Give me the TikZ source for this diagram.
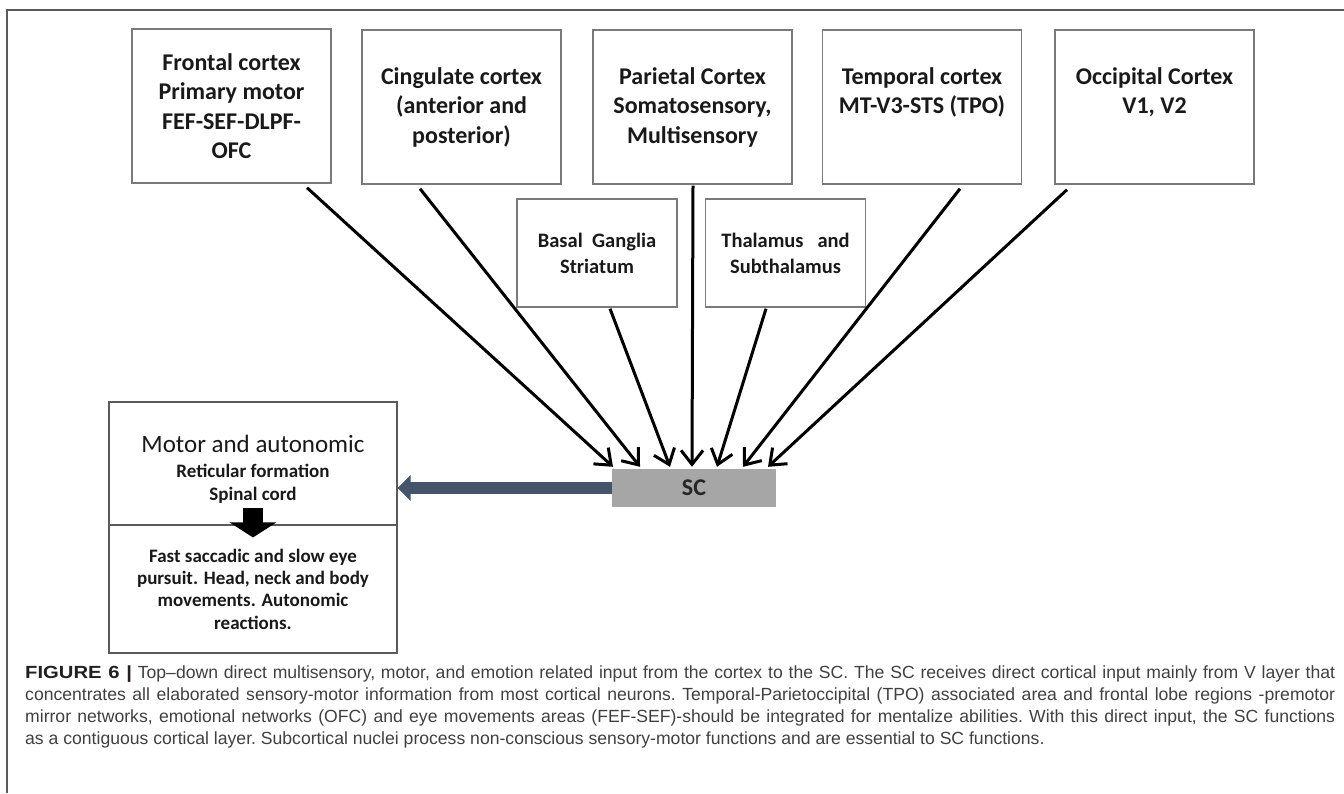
\documentclass[tikz,border=0pt]{standalone}
\usepackage{fontspec}
\setmainfont{Carlito}
\newfontfamily\capfont{Liberation Sans}
\newfontfamily\capbf[FakeStretch=1.15]{Liberation Sans Bold}
\usetikzlibrary{arrows.meta}
\definecolor{boxline}{HTML}{7A7A7A}
\definecolor{frameline}{HTML}{5A5A5A}
\definecolor{scfill}{HTML}{A6A6A6}
\definecolor{slate}{HTML}{44546A}
\definecolor{captxt}{HTML}{404040}
\definecolor{capbold}{HTML}{231F20}
\begin{document}
\begin{tikzpicture}[x=1pt,y=-1pt,
  cortex/.style={draw=boxline,line width=1.4pt,minimum width=199pt,minimum height=154pt,inner sep=0pt,align=center,font=\bfseries\fontsize{24}{29.5}\selectfont,text=black!90},
  subc/.style={draw=boxline,line width=1.4pt,minimum width=160pt,minimum height=108pt,inner sep=0pt,align=center,font=\bfseries\fontsize{20.5}{25.8}\selectfont,text=black!90},
  motorbox/.style={draw=frameline,line width=1.1pt,minimum width=288pt,inner sep=0pt,align=center,text=black!90},
  arr/.style={line width=3pt,-{Straight Barb[length=14pt,width=22pt,line width=3pt]}},
  framestyle/.style={draw=frameline,line width=1.2pt}
]
\useasboundingbox (0,0) rectangle (1344,793);
\draw[framestyle] (7,793) -- (7,10) -- (1344,10);

\node[cortex] (frontal) at (231.5,106) {Frontal cortex\\Primary motor\\FEF-SEF-DLPF-\\OFC};
\node[cortex] (cingulate) at (461.5,107) {Cingulate cortex\\(anterior and\\posterior)};
\node[cortex] (parietal) at (692.5,107) {Parietal Cortex\\Somatosensory,\\Multisensory};
\node[cortex] (temporal) at (922,107) {Temporal cortex\\MT-V3-STS (TPO)\\\phantom{(Xy)}};
\node[cortex] (occipital) at (1154.5,107) {Occipital Cortex\\V1, V2\\\phantom{(Xy)}};

\node[subc] (basal) at (597,253) {Basal\ \ Ganglia\\Striatum};
\node[subc] (thalamus) at (785.5,253) {Thalamus\ \ \ and\\Subthalamus};

\node[fill=scfill,minimum width=164pt,minimum height=38pt,inner sep=0pt,font=\bfseries\fontsize{24}{28}\selectfont,text=black!85] (sc) at (694,488) {SC};

\node[motorbox,minimum height=123pt,font=\bfseries\fontsize{19}{23}\selectfont] (motortop) at (253,463.5) {{\mdseries\fontsize{25}{30}\selectfont\rule{0pt}{29pt}Motor and autonomic}\\[2pt]Reticular formation\\Spinal cord};
\node[motorbox,minimum height=128pt,font=\bfseries\fontsize{19}{22.3}\selectfont] (motorbot) at (253,589) {Fast saccadic and slow eye\\pursuit. Head, neck and body\\movements. Autonomic\\reactions.};

\draw[arr] ([xshift=75.5pt,yshift=-4pt]frontal.south) -- ([xshift=-81pt,yshift=2pt]sc.north);
\draw[arr] ([xshift=-41.5pt,yshift=-4pt]cingulate.south) -- ([xshift=-54pt,yshift=2pt]sc.north);
\draw[arr] ([xshift=13pt,yshift=-1pt]basal.south) -- ([xshift=-24pt,yshift=2pt]sc.north);
\draw[arr] ([xshift=0.5pt,yshift=-1pt]parietal.south) -- ([xshift=-2pt,yshift=2pt]sc.north);
\draw[arr] ([xshift=-19.5pt,yshift=-1pt]thalamus.south) -- ([xshift=23pt,yshift=2pt]sc.north);
\draw[arr] ([xshift=38pt,yshift=-4pt]temporal.south) -- ([xshift=49pt,yshift=2pt]sc.north);
\draw[arr] ([xshift=-87.5pt,yshift=-5pt]occipital.south) -- ([xshift=74pt,yshift=2pt]sc.north);

\draw[slate,line width=12pt,-{Triangle[length=13pt,width=25pt]}] (sc.west) -- (sc.west -| motortop.east);
\draw[black,line width=20pt,-{Triangle[length=15pt,width=46pt]}] ([yshift=16pt]motorbot.north) -- ([yshift=-13pt]motorbot.north);

\node[anchor=north west,inner sep=0pt,text width=1310pt,align=justify,font=\capfont\frenchspacing\fontsize{17.6}{22}\selectfont,text=captxt] (caption) at (25,666) {{\capbf\color{capbold}FIGURE 6 |} Top–down direct multisensory, motor, and emotion related input from the cortex to the SC. The SC receives direct cortical input mainly from V layer that\linebreak concentrates all elaborated sensory-motor information from most cortical neurons. Temporal-Parietoccipital (TPO) associated area and frontal lobe regions -premotor\linebreak mirror networks, emotional networks (OFC) and eye movements areas (FEF-SEF)-should be integrated for mentalize abilities. With this direct input, the SC functions\linebreak as a contiguous cortical layer. Subcortical nuclei process non-conscious sensory-motor functions and are essential to SC functions.\par};
\end{tikzpicture}
\end{document}
